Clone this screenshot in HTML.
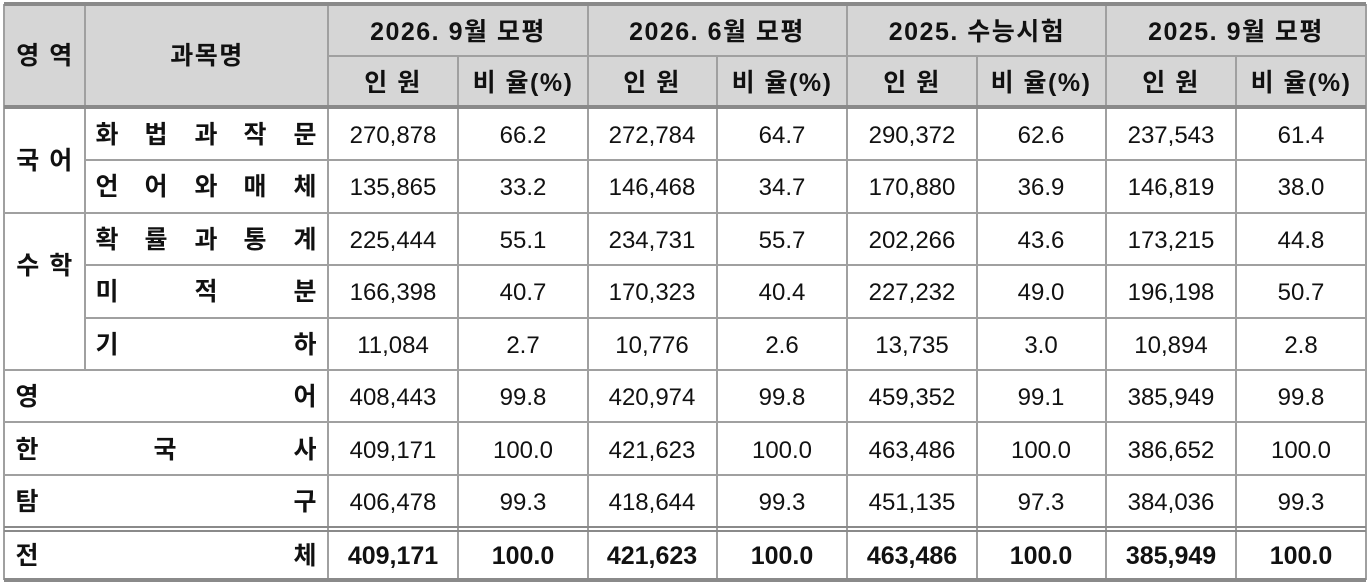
<!DOCTYPE html>
<html><head><meta charset="utf-8"><style>
html,body{margin:0;padding:0;background:#fff;}
svg{display:block;}
text{font-family:"Liberation Sans","Noto Sans CJK KR","NanumGothic",sans-serif;fill:#111;}
.n{font-size:24px;text-anchor:middle;}
.b{font-size:25px;font-weight:bold;text-anchor:middle;}
.h{font-size:25px;font-weight:bold;text-anchor:middle;}
.t{font-size:25px;font-weight:bold;text-anchor:middle;letter-spacing:1.5px;}
</style></head><body>
<svg width="1369" height="585" xmlns="http://www.w3.org/2000/svg">
<rect x="4" y="4" width="1362" height="103" fill="#d6d6d6"/>
<g stroke="#a0a0a0" stroke-width="2" fill="none">
<line x1="328" y1="56" x2="1366" y2="56"/>
<line x1="85" y1="160" x2="1366" y2="160"/>
<line x1="4" y1="213" x2="1366" y2="213"/>
<line x1="85" y1="265" x2="1366" y2="265"/>
<line x1="85" y1="318" x2="1366" y2="318"/>
<line x1="4" y1="370" x2="1366" y2="370"/>
<line x1="4" y1="422" x2="1366" y2="422"/>
<line x1="4" y1="475" x2="1366" y2="475"/>
<line x1="4" y1="4" x2="4" y2="580"/>
<line x1="1366" y1="4" x2="1366" y2="580"/>
<line x1="85" y1="4" x2="85" y2="370"/>
<line x1="328" y1="4" x2="328" y2="580"/>
<line x1="588" y1="4" x2="588" y2="580"/>
<line x1="847" y1="4" x2="847" y2="580"/>
<line x1="1106" y1="4" x2="1106" y2="580"/>
<line x1="458" y1="56" x2="458" y2="580"/>
<line x1="717" y1="56" x2="717" y2="580"/>
<line x1="977" y1="56" x2="977" y2="580"/>
<line x1="1236" y1="56" x2="1236" y2="580"/>
</g>
<g stroke="#8a8a8a" fill="none">
<line x1="4" y1="4" x2="1366" y2="4" stroke-width="4"/>
<line x1="4" y1="107" x2="1366" y2="107" stroke-width="4"/>
<line x1="4" y1="527" x2="1366" y2="527" stroke-width="2"/>
<line x1="4" y1="531" x2="1366" y2="531" stroke-width="2"/>
<line x1="4" y1="580" x2="1366" y2="580" stroke-width="4"/>
</g>
<text class="t" x="45" y="64">영 역</text>
<text class="t" x="207" y="64">과목명</text>
<text class="t" x="458" y="40">2026. 9월  모평</text>
<text class="t" x="717" y="40">2026. 6월  모평</text>
<text class="t" x="977" y="40">2025. 수능시험</text>
<text class="t" x="1236" y="40">2025. 9월  모평</text>
<text class="t" x="393" y="91">인 원</text><text class="t" x="523" y="91">비 율(%)</text>
<text class="t" x="652" y="91">인 원</text><text class="t" x="782" y="91">비 율(%)</text>
<text class="t" x="912" y="91">인 원</text><text class="t" x="1041" y="91">비 율(%)</text>
<text class="t" x="1171" y="91">인 원</text><text class="t" x="1301" y="91">비 율(%)</text>
<text class="t" x="45" y="169">국 어</text>
<text class="t" x="45" y="274">수 학</text>
<g>
<text class="h" x="107" y="143">화</text><text class="h" x="156" y="143">법</text><text class="h" x="206" y="143">과</text><text class="h" x="255" y="143">작</text><text class="h" x="305" y="143">문</text>
<text class="h" x="107" y="195">언</text><text class="h" x="156" y="195">어</text><text class="h" x="206" y="195">와</text><text class="h" x="255" y="195">매</text><text class="h" x="305" y="195">체</text>
<text class="h" x="107" y="248">확</text><text class="h" x="156" y="248">률</text><text class="h" x="206" y="248">과</text><text class="h" x="255" y="248">통</text><text class="h" x="305" y="248">계</text>
<text class="h" x="107" y="300">미</text><text class="h" x="206" y="300">적</text><text class="h" x="305" y="300">분</text>
<text class="h" x="107" y="353">기</text><text class="h" x="305" y="353">하</text>
<text class="h" x="27" y="405">영</text><text class="h" x="305" y="405">어</text>
<text class="h" x="27" y="458">한</text><text class="h" x="165" y="458">국</text><text class="h" x="305" y="458">사</text>
<text class="h" x="27" y="510">탐</text><text class="h" x="305" y="510">구</text>
<text class="h" x="27" y="564">전</text><text class="h" x="305" y="564">체</text>
</g>
<g>
<text class="n" x="393" y="143">270,878</text><text class="n" x="523" y="143">66.2</text><text class="n" x="652" y="143">272,784</text><text class="n" x="782" y="143">64.7</text><text class="n" x="912" y="143">290,372</text><text class="n" x="1041" y="143">62.6</text><text class="n" x="1171" y="143">237,543</text><text class="n" x="1301" y="143">61.4</text>
<text class="n" x="393" y="195">135,865</text><text class="n" x="523" y="195">33.2</text><text class="n" x="652" y="195">146,468</text><text class="n" x="782" y="195">34.7</text><text class="n" x="912" y="195">170,880</text><text class="n" x="1041" y="195">36.9</text><text class="n" x="1171" y="195">146,819</text><text class="n" x="1301" y="195">38.0</text>
<text class="n" x="393" y="248">225,444</text><text class="n" x="523" y="248">55.1</text><text class="n" x="652" y="248">234,731</text><text class="n" x="782" y="248">55.7</text><text class="n" x="912" y="248">202,266</text><text class="n" x="1041" y="248">43.6</text><text class="n" x="1171" y="248">173,215</text><text class="n" x="1301" y="248">44.8</text>
<text class="n" x="393" y="300">166,398</text><text class="n" x="523" y="300">40.7</text><text class="n" x="652" y="300">170,323</text><text class="n" x="782" y="300">40.4</text><text class="n" x="912" y="300">227,232</text><text class="n" x="1041" y="300">49.0</text><text class="n" x="1171" y="300">196,198</text><text class="n" x="1301" y="300">50.7</text>
<text class="n" x="393" y="353">11,084</text><text class="n" x="523" y="353">2.7</text><text class="n" x="652" y="353">10,776</text><text class="n" x="782" y="353">2.6</text><text class="n" x="912" y="353">13,735</text><text class="n" x="1041" y="353">3.0</text><text class="n" x="1171" y="353">10,894</text><text class="n" x="1301" y="353">2.8</text>
<text class="n" x="393" y="405">408,443</text><text class="n" x="523" y="405">99.8</text><text class="n" x="652" y="405">420,974</text><text class="n" x="782" y="405">99.8</text><text class="n" x="912" y="405">459,352</text><text class="n" x="1041" y="405">99.1</text><text class="n" x="1171" y="405">385,949</text><text class="n" x="1301" y="405">99.8</text>
<text class="n" x="393" y="458">409,171</text><text class="n" x="523" y="458">100.0</text><text class="n" x="652" y="458">421,623</text><text class="n" x="782" y="458">100.0</text><text class="n" x="912" y="458">463,486</text><text class="n" x="1041" y="458">100.0</text><text class="n" x="1171" y="458">386,652</text><text class="n" x="1301" y="458">100.0</text>
<text class="n" x="393" y="510">406,478</text><text class="n" x="523" y="510">99.3</text><text class="n" x="652" y="510">418,644</text><text class="n" x="782" y="510">99.3</text><text class="n" x="912" y="510">451,135</text><text class="n" x="1041" y="510">97.3</text><text class="n" x="1171" y="510">384,036</text><text class="n" x="1301" y="510">99.3</text>
</g>
<g>
<text class="b" x="393" y="564">409,171</text><text class="b" x="523" y="564">100.0</text><text class="b" x="652" y="564">421,623</text><text class="b" x="782" y="564">100.0</text><text class="b" x="912" y="564">463,486</text><text class="b" x="1041" y="564">100.0</text><text class="b" x="1171" y="564">385,949</text><text class="b" x="1301" y="564">100.0</text>
</g>
</svg>
</body></html>
